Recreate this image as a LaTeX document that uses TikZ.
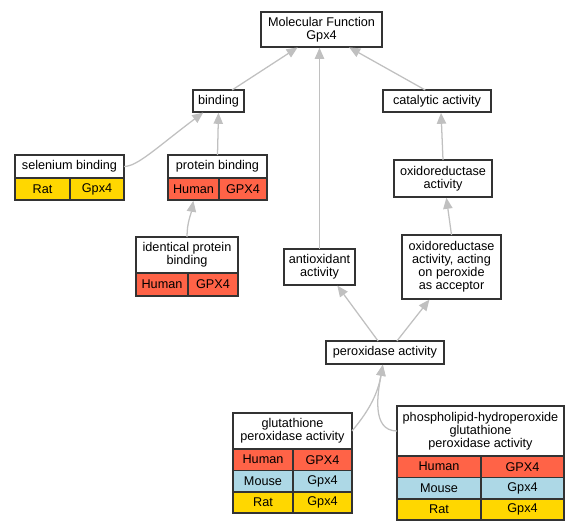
\documentclass[tikz,border=0pt]{standalone}
\usepackage{fontspec}
\setmainfont{Liberation Sans}
\usetikzlibrary{arrows.meta,positioning}
\definecolor{human}{HTML}{FF6347}
\definecolor{mouse}{HTML}{ADD8E6}
\definecolor{rat}{HTML}{FFD700}
\definecolor{boxline}{HTML}{333333}
\definecolor{edgeline}{HTML}{C0C0C0}

\begin{document}
\begin{tikzpicture}[x=0.75pt,y=-0.75pt,font=\fontsize{9.5}{9.8}\selectfont,
  term/.style={draw=boxline,line width=1.25pt,fill=white,align=center,inner sep=0pt,outer sep=0pt},
  cell/.style={term,minimum height=16.5pt},
  isa/.style={draw=edgeline,line width=0.95pt,shorten >=0.6pt,-{Triangle[length=8.25pt,width=7pt]}}]

\useasboundingbox (0,0) rectangle (580,531);

\node(mf)[term,minimum width=90.75pt,minimum height=26.25pt] at (321.5,29.5){Molecular Function\\Gpx4};

\node(bind)[term,minimum width=38.25pt,minimum height=16.5pt] at (218.5,101){binding};

\node(cat)[term,minimum width=81pt,minimum height=16.5pt] at (437,101){catalytic activity};

\node(selt)[term,minimum width=81.75pt,minimum height=17.25pt] at (69.5,166.5){selenium binding};

\node(selrat)[cell,fill=rat,minimum width=41.25pt,below right=0pt of selt.south west]{Rat};

\node(selgene)[cell,fill=rat,minimum width=40.5pt,right=0pt of selrat]{Gpx4};

\node(prott)[term,minimum width=74.25pt,minimum height=17.25pt] at (217.5,166.5){protein binding};

\node(prothuman)[cell,fill=human,minimum width=38.25pt,below right=0pt of prott.south west]{Human};

\node(protgene)[cell,fill=human,minimum width=36pt,right=0pt of prothuman]{GPX4};

\node(oxr)[term,minimum width=73.5pt,minimum height=27.75pt] at (443,178.5){oxidoreductase\\activity};

\node(identt)[term,minimum width=76.5pt,minimum height=27pt] at (187,255){identical protein\\binding};

\node(identhuman)[cell,fill=human,minimum width=39pt,minimum height=17.25pt,below right=0pt of identt.south west]{Human};

\node(identgene)[cell,fill=human,minimum width=37.5pt,minimum height=17.25pt,right=0pt of identhuman]{GPX4};

\node(antiox)[term,minimum width=53.25pt,minimum height=27pt] at (319.5,267){antioxidant\\activity};

\node(act)[term,minimum width=74.25pt,minimum height=48pt] at (451.5,267){oxidoreductase\\activity, acting\\on peroxide\\as acceptor};

\node(perox)[term,minimum width=88.5pt,minimum height=17.25pt] at (385,352.5){peroxidase activity};

\node(glutt)[term,minimum width=89.25pt,minimum height=27pt] at (292.5,431){glutathione\\peroxidase activity};

\node(gluthuman)[cell,fill=human,minimum width=45pt,minimum height=16pt,below right=0pt of glutt.south west]{Human};

\node(glutgene1)[cell,fill=human,minimum width=44.25pt,minimum height=16pt,right=0pt of gluthuman]{GPX4};

\node(glutmouse)[cell,fill=mouse,minimum width=45pt,minimum height=16pt,below=0pt of gluthuman]{Mouse};

\node(glutgene2)[cell,fill=mouse,minimum width=44.25pt,minimum height=16pt,right=0pt of glutmouse]{Gpx4};

\node(glutrat)[cell,fill=rat,minimum width=45pt,minimum height=16pt,below=0pt of glutmouse]{Rat};

\node(glutgene3)[cell,fill=rat,minimum width=44.25pt,minimum height=16pt,right=0pt of glutrat]{Gpx4};

\node(phost)[term,minimum width=125.25pt,minimum height=37.5pt] at (480.5,431){phospholipid-hydroperoxide\\glutathione\\peroxidase activity};

\node(phoshuman)[cell,fill=human,minimum width=63pt,minimum height=16pt,below right=0pt of phost.south west]{Human};

\node(phosgene1)[cell,fill=human,minimum width=62.25pt,minimum height=16pt,right=0pt of phoshuman]{GPX4};

\node(phosmouse)[cell,fill=mouse,minimum width=63pt,minimum height=16pt,below=0pt of phoshuman]{Mouse};

\node(phosgene2)[cell,fill=mouse,minimum width=62.25pt,minimum height=16pt,right=0pt of phosmouse]{Gpx4};

\node(phosrat)[cell,fill=rat,minimum width=63pt,minimum height=16pt,below=0pt of phosmouse]{Rat};

\node(phosgene3)[cell,fill=rat,minimum width=62.25pt,minimum height=16pt,right=0pt of phosrat]{Gpx4};

\draw[isa] (bind.39) -- (mf.-143);

\draw[isa] (cat.137) -- (mf.-33);

\draw[isa] (antiox.north) -- (antiox.north |- mf.south);

\draw[isa] (selt.east) to[out=0,in=217,out distance=10pt,in distance=45pt] (bind.-143);

\draw[isa] (prott.north) -- (bind.south);

\draw[isa] (oxr.north) -- (cat.-70);

\draw[isa] (identt.north) to[out=90,in=-100] (prothuman.south);

\draw[isa] (act.north) -- (oxr.-80);

\draw[isa] (perox.121) -- (antiox.-46);

\draw[isa] (perox.44) -- (act.-124);

\draw[isa] (glutt.east) to[out=50,in=-100] (perox.-100);

\draw[isa] (phost.west) to[out=180,in=-100] (perox.-100);

\end{tikzpicture}
\end{document}
